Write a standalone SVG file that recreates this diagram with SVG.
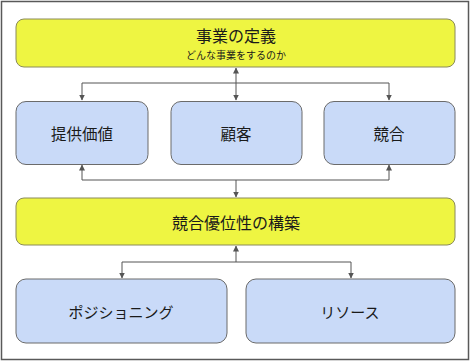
<svg xmlns="http://www.w3.org/2000/svg" width="471" height="362" viewBox="0 0 471 362">
<defs>
<style>
.frame{fill:#ffffff;stroke:#595959;stroke-width:1.5}
.y{fill:#eef542;stroke:#8a8a5a;stroke-width:1}
.b{fill:#c9daf8;stroke:#6b6b6b;stroke-width:1}
.t{font-family:"Noto Sans CJK JP","Noto Sans CJK SC",sans-serif;fill:#1a1a1a;text-anchor:middle;dominant-baseline:central}
.c{fill:none;stroke:#555555;stroke-width:1}
</style>
<marker id="ah" viewBox="0 0 6 6" refX="5.5" refY="3" markerWidth="6" markerHeight="6" orient="auto-start-reverse" markerUnits="userSpaceOnUse">
<path d="M0,0 L6,3 L0,6 z" fill="#555555"/>
</marker>
</defs>
<rect class="frame" x="1.5" y="1.5" width="467" height="358"/>
<g id="connectors">
<path class="c" d="M236,68 V100" marker-start="url(#ah)" marker-end="url(#ah)"/>
<path class="c" d="M82,100 V83 H389 V100" marker-start="url(#ah)" marker-end="url(#ah)"/>
<path class="c" d="M82,165 V180 H389 V165" marker-start="url(#ah)" marker-end="url(#ah)"/>
<path class="c" d="M236,180 V197" marker-end="url(#ah)"/>
<path class="c" d="M236,246 V262"  marker-start="url(#ah)"/>
<path class="c" d="M122,278 V262 H351 V278" marker-start="url(#ah)" marker-end="url(#ah)"/>
</g>
<g id="def">
<rect class="y" x="16" y="19" width="439" height="48" rx="8"/>
<text class="t" x="236" y="35" font-size="16">事業の定義</text>
<text class="t" x="236" y="54.5" font-size="10">どんな事業をするのか</text>
</g>
<g id="value">
<rect class="b" x="16" y="101.5" width="132" height="63" rx="10"/>
<text class="t" x="82" y="133" font-size="15.5">提供価値</text>
</g>
<g id="customer">
<rect class="b" x="171" y="101.5" width="131" height="63" rx="10"/>
<text class="t" x="236" y="133" font-size="15.5">顧客</text>
</g>
<g id="competitor">
<rect class="b" x="324" y="101.5" width="131" height="63" rx="10"/>
<text class="t" x="389" y="133" font-size="15.5">競合</text>
</g>
<g id="advantage">
<rect class="y" x="16" y="198" width="439" height="47" rx="8"/>
<text class="t" x="236" y="222" font-size="16">競合優位性の構築</text>
</g>
<g id="positioning">
<rect class="b" x="16" y="279" width="211" height="64" rx="10"/>
<text class="t" x="121" y="311" font-size="15">ポジショニング</text>
</g>
<g id="resource">
<rect class="b" x="246" y="279" width="209" height="64" rx="10"/>
<text class="t" x="350" y="311" font-size="15">リソース</text>
</g>
</svg>
